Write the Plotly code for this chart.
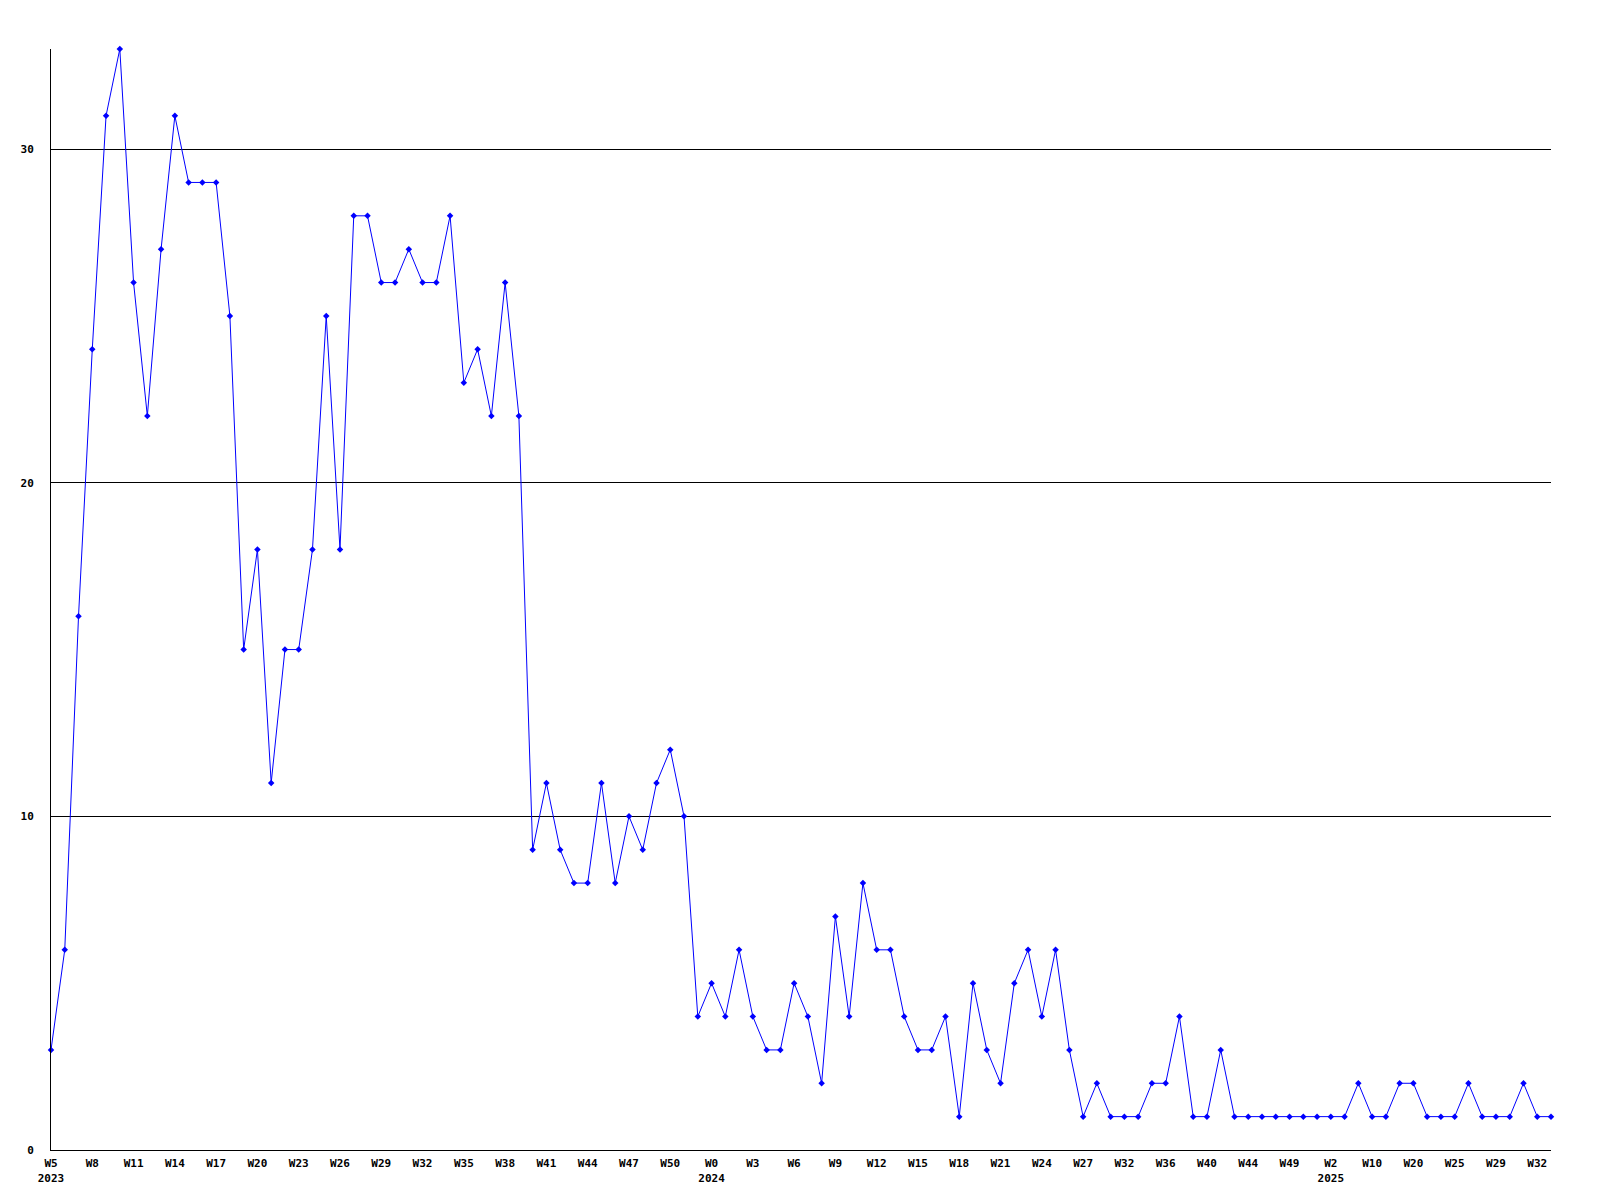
import plotly.graph_objects as go

# Week categories (year, week) in order
years = [2023] * 48 + [2024] * 45 + [2025] * 17
week_numbers = (
    list(range(5, 53))                                   # 2023: W5..W52
    + list(range(0, 28))                                 # 2024: W0..W27
    + [29, 31, 32, 33, 35, 36, 37, 39, 40, 41, 43, 44, 46, 48, 49, 50, 52]  # 2024 sparse
    + [2, 5, 7, 10, 13, 17, 20, 21, 23, 25, 26, 27, 29, 30, 31, 32, 33]     # 2025 sparse
)

values = [
    3, 6, 16, 24, 31, 33, 26, 22, 27, 31,
    29, 29, 29, 25, 15, 18, 11, 15, 15, 18,
    25, 18, 28, 28, 26, 26, 27, 26, 26, 28,
    23, 24, 22, 26, 22, 9, 11, 9, 8, 8,
    11, 8, 10, 9, 11, 12, 10, 4, 5, 4,
    6, 4, 3, 3, 5, 4, 2, 7, 4, 8,
    6, 6, 4, 3, 3, 4, 1, 5, 3, 2,
    5, 6, 4, 6, 3, 1, 2, 1, 1, 1,
    2, 2, 4, 1, 1, 3, 1, 1, 1, 1,
    1, 1, 1, 1, 1, 2, 1, 1, 2, 2,
    1, 1, 1, 2, 1, 1, 1, 2, 1, 1,
]

categories = [f"{y}-W{w}" for y, w in zip(years, week_numbers)]

# tick labels every third category, year shown at first label of each year
tick_vals = []
tick_text = []
seen_years = set()
for i in range(0, len(categories), 3):
    tick_vals.append(categories[i])
    label = f"W{week_numbers[i]}"
    if years[i] not in seen_years:
        seen_years.add(years[i])
        label += f"<br>{years[i]}"
    tick_text.append(label)

fig = go.Figure()
fig.add_trace(go.Scatter(
    x=categories,
    y=values,
    mode="lines+markers",
    line=dict(color="#0000ff", width=1),
    marker=dict(color="#0000ff", size=5, symbol="diamond"),
    cliponaxis=False,
    showlegend=False,
))

font = dict(family="DejaVu Sans Mono", size=11, color="black", weight="bold")

fig.update_layout(
    width=1600,
    height=1200,
    margin=dict(l=43, r=57, t=41, b=58),
    paper_bgcolor="white",
    plot_bgcolor="white",
    font=font,
)
fig.update_xaxes(
    type="category",
    range=[0, len(categories) - 1],
    tickmode="array",
    tickvals=tick_vals,
    ticktext=tick_text,
    tickfont=font,
    showgrid=False,
    showline=True,
    linecolor="black",
    linewidth=1,
    ticks="",
    ticklabelstandoff=3,
)
fig.update_yaxes(
    range=[0, 33],
    tickmode="array",
    tickvals=[0, 10, 20, 30],
    tickfont=font,
    showgrid=True,
    gridcolor="black",
    gridwidth=1,
    zeroline=False,
    showline=True,
    linecolor="black",
    linewidth=1,
    ticks="",
    ticklabelstandoff=14,
)

fig.write_html("out.html")
